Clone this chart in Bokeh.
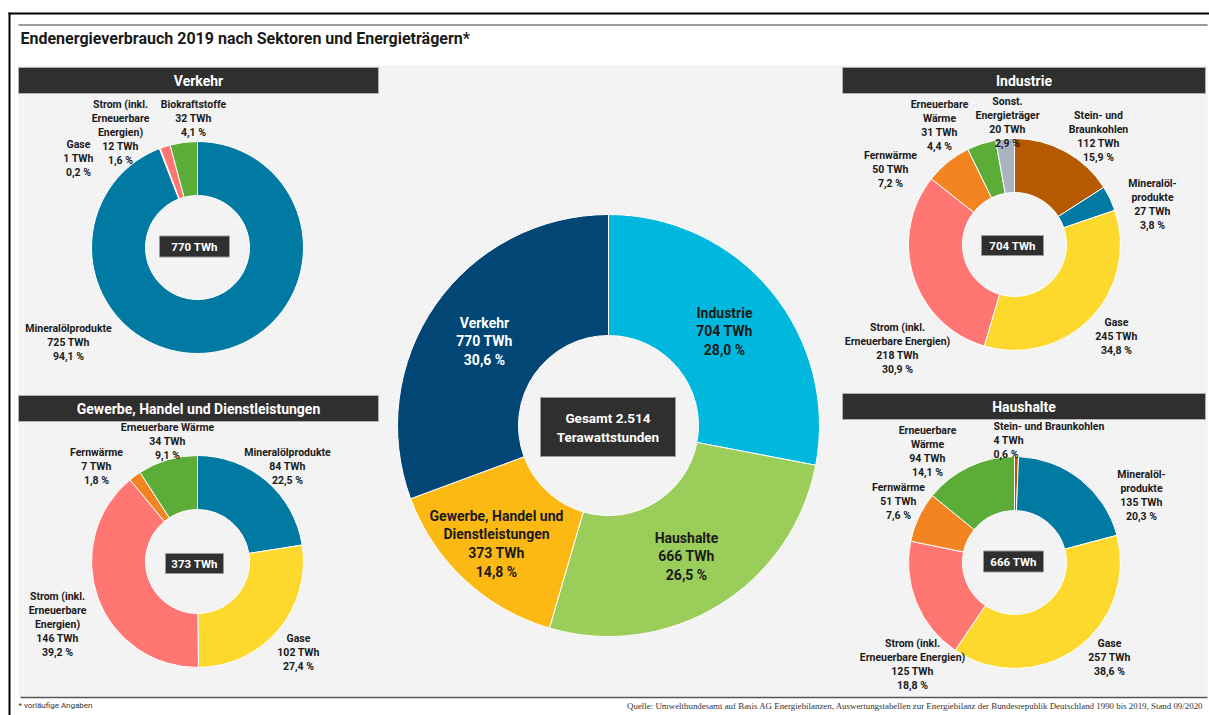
import math
from bokeh.plotting import figure
from bokeh.models import Range1d
from bokeh.core.properties import value
from bokeh.embed import file_html
from bokeh.resources import INLINE

# ---------------- data ----------------
sector_names = ["Industrie", "Haushalte", "Gewerbe, Handel und Dienstleistungen", "Verkehr"]
sector_twh = [704, 666, 373, 770]
sector_pct = ["28,0 %", "26,5 %", "14,8 %", "30,6 %"]
total_label = "Gesamt 2.514\nTerawattstunden"

verkehr_carriers = ["Mineralölprodukte", "Gase", "Strom (inkl. Erneuerbare Energien)", "Biokraftstoffe"]
verkehr_twh = [725, 1, 12, 32]
verkehr_pct = ["94,1 %", "0,2 %", "1,6 %", "4,1 %"]
verkehr_total = "770 TWh"

industrie_carriers = ["Stein- und Braunkohlen", "Mineralölprodukte", "Gase",
                      "Strom (inkl. Erneuerbare Energien)", "Fernwärme", "Erneuerbare Wärme",
                      "Sonst. Energieträger"]
industrie_twh = [112, 27, 245, 218, 50, 31, 20]
industrie_pct = ["15,9 %", "3,8 %", "34,8 %", "30,9 %", "7,2 %", "4,4 %", "2,9 %"]
industrie_total = "704 TWh"

gewerbe_carriers = ["Mineralölprodukte", "Gase", "Strom (inkl. Erneuerbare Energien)",
                    "Fernwärme", "Erneuerbare Wärme"]
gewerbe_twh = [84, 102, 146, 7, 34]
gewerbe_pct = ["22,5 %", "27,4 %", "39,2 %", "1,8 %", "9,1 %"]
gewerbe_total = "373 TWh"

haushalte_carriers = ["Stein- und Braunkohlen", "Mineralölprodukte", "Gase",
                      "Strom (inkl. Erneuerbare Energien)", "Fernwärme", "Erneuerbare Wärme"]
haushalte_twh = [4, 135, 257, 125, 51, 94]
haushalte_pct = ["0,6 %", "20,3 %", "38,6 %", "18,8 %", "7,6 %", "14,1 %"]
haushalte_total = "666 TWh"

title_text = "Endenergieverbrauch 2019 nach Sektoren und Energieträgern*"
footnote_text = "* vorläufige Angaben"
source_text = ("Quelle: Umweltbundesamt auf Basis AG Energiebilanzen, Auswertungstabellen zur "
               "Energiebilanz der Bundesrepublik Deutschland 1990 bis 2019, Stand 09/2020")

# ---------------- styles ----------------
carrier_colors = {
    "Mineralölprodukte": "#0079a3",
    "Gase": "#fdd92e",
    "Strom (inkl. Erneuerbare Energien)": "#ff7673",
    "Biokraftstoffe": "#5bad37",
    "Erneuerbare Wärme": "#5bad37",
    "Fernwärme": "#f28522",
    "Stein- und Braunkohlen": "#b55a00",
    "Sonst. Energieträger": "#a9b4bf",
}
sector_colors = ["#00b8dd", "#9bcd5a", "#fdb913", "#024676"]
sector_text_colors = ["#1a1a1a", "#1a1a1a", "#1a1a1a", "#ffffff"]

FONT = value("Roboto")
SERIF = value("Liberation Serif")
DARK = "#2f2f2f"
TXT = "#1a1a1a"

W_IMG, H_IMG = 1209, 715
def Y(py):
    return H_IMG - py

p = figure(width=W_IMG, height=H_IMG, output_backend="svg", toolbar_location=None,
           x_range=Range1d(0, W_IMG), y_range=Range1d(0, H_IMG),
           x_axis_location=None, y_axis_location=None, min_border=0,
           background_fill_color="white", border_fill_color="white")
p.grid.visible = False
p.outline_line_color = None

# background hatched area
p.quad(left=[18], right=[1207], top=[Y(65)], bottom=[Y(696)], fill_color="#efefef",
       line_color=None, hatch_pattern="/", hatch_color="#ffffff", hatch_alpha=0.7,
       hatch_scale=4, hatch_weight=0.8)

# frame lines
p.quad(left=[8], right=[10], top=[Y(12)], bottom=[Y(715)], fill_color="black", line_color=None)
p.quad(left=[8], right=[1209], top=[Y(12)], bottom=[Y(14)], fill_color="black", line_color=None)
p.line([18, 1207], [Y(24.5), Y(24.5)], line_color="#7a7a7a", line_width=1.5)
p.line([20, 1207], [Y(697), Y(697)], line_color="#555555", line_width=1.5)

p.text([20], [Y(38)], text=[title_text], text_font=FONT, text_font_style="bold",
       text_font_size="16px", text_color=TXT, text_align="left", text_baseline="middle")
p.text([18], [Y(705)], text=[footnote_text], text_font=FONT, text_font_size="8px",
       text_color="#333333", text_align="left", text_baseline="middle")
p.text([1203], [Y(705)], text=[source_text], text_font=SERIF, text_font_size="8.9px",
       text_color="#333333", text_align="right", text_baseline="middle")


def donut(cx, cy, r_in, r_out, vals, colors):
    total = float(sum(vals))
    c0 = 0.0
    starts, ends = [], []
    for v in vals:
        c1 = c0 + v
        starts.append(math.pi / 2 - 2 * math.pi * c1 / total)
        ends.append(math.pi / 2 - 2 * math.pi * c0 / total)
        c0 = c1
    n = len(vals)
    p.annular_wedge(x=[cx] * n, y=[Y(cy)] * n, inner_radius=r_in, outer_radius=r_out,
                    start_angle=starts, end_angle=ends, direction="anticlock",
                    fill_color=colors, line_color="white", line_width=1)


def multiline(x, y_first, lines, step, size, color, align, style="bold"):
    xs = [x] * len(lines)
    ys = [Y(y_first + i * step) for i in range(len(lines))]
    p.text(xs, ys, text=lines, text_font=FONT, text_font_style=style,
           text_font_size=f"{size}px", text_color=color, text_align=align,
           text_baseline="middle")


def labels(layout, names, vals, pcts, size=10.5, step=14.0, colors=None):
    for i, (lx, ly, al) in enumerate(layout):
        lines = names[i].split("\n") + [f"{vals[i]} TWh", pcts[i]]
        multiline(lx, ly, lines, step, size, colors[i] if colors else TXT, al)


def box(cx, cy, w, h, txt, size, step=19.0):
    p.rect([cx], [Y(cy)], width=w, height=h, fill_color=DARK, line_color="#9a9a9a", line_width=1)
    lines = txt.split("\n")
    y0 = cy - step * (len(lines) - 1) / 2
    multiline(cx, y0, lines, step, size, "white", "center")


def header(x0, x1, y0, y1, txt):
    p.quad(left=[x0], right=[x1], top=[Y(y0)], bottom=[Y(y1)], fill_color=DARK,
           line_color="#b0b0b0", line_width=1)
    p.text([(x0 + x1) / 2], [Y((y0 + y1) / 2)], text=[txt], text_font=FONT,
           text_font_style="bold", text_font_size="14px", text_color="white",
           text_align="center", text_baseline="middle")


R_IN, R_OUT = 52, 106

# ---- Verkehr ----
donut(197, 247, R_IN, R_OUT, verkehr_twh, [carrier_colors[c] for c in verkehr_carriers])
labels([(68, 328, "center"), (78, 144, "center"), (120, 104, "center"), (193, 104, "center")],
       ["Mineralölprodukte", "Gase", "Strom (inkl.\nErneuerbare\nEnergien)", "Biokraftstoffe"],
       verkehr_twh, verkehr_pct)
box(194, 246, 70, 21, verkehr_total, 11.5)
header(18, 378, 67, 93, "Verkehr")

# ---- Industrie ----
donut(1014, 244, R_IN, R_OUT, industrie_twh, [carrier_colors[c] for c in industrie_carriers])
labels([(1098, 115, "center"), (1152, 183, "center"), (1116, 322, "center"),
        (897, 327, "center"), (890, 155, "center"), (939, 104, "center"), (1007, 101, "center")],
       ["Stein- und\nBraunkohlen", "Mineralöl-\nprodukte", "Gase",
        "Strom (inkl.\nErneuerbare Energien)", "Fernwärme", "Erneuerbare\nWärme",
        "Sonst.\nEnergieträger"],
       industrie_twh, industrie_pct)
box(1012, 245, 62, 20, industrie_total, 11.5)
header(842, 1205, 67, 93, "Industrie")

# ---- Gewerbe ----
donut(197, 561, R_IN, R_OUT, gewerbe_twh, [carrier_colors[c] for c in gewerbe_carriers])
labels([(287, 452, "center"), (298, 638, "center"), (57, 596, "center"),
        (96, 452, "center"), (167, 427, "center")],
       ["Mineralölprodukte", "Gase", "Strom (inkl.\nErneuerbare\nEnergien)", "Fernwärme",
        "Erneuerbare Wärme"],
       gewerbe_twh, gewerbe_pct)
box(194, 563, 58, 20, gewerbe_total, 11.5)
header(18, 378, 395, 421, "Gewerbe, Handel und Dienstleistungen")

# ---- Haushalte ----
donut(1014, 562, R_IN, R_OUT, haushalte_twh, [carrier_colors[c] for c in haushalte_carriers])
labels([(993, 426, "left"), (1141, 474, "center"), (1109, 643, "center"),
        (912, 643, "center"), (898, 487, "center"), (927, 430, "center")],
       ["Stein- und Braunkohlen", "Mineralöl-\nprodukte", "Gase",
        "Strom (inkl.\nErneuerbare Energien)", "Fernwärme", "Erneuerbare\nWärme"],
       haushalte_twh, haushalte_pct)
box(1013, 561, 60, 21, haushalte_total, 11.5)
header(842, 1205, 393, 419, "Haushalte")

# ---- Gesamt ----
donut(608, 425, 90, 211, sector_twh, sector_colors)
labels([(724, 312, "center"), (686, 537, "center"), (496, 515, "center"), (484, 322, "center")],
       ["Industrie", "Haushalte", "Gewerbe, Handel und\nDienstleistungen", "Verkehr"],
       sector_twh, sector_pct, size=14, step=18.7, colors=sector_text_colors)
box(607.5, 426.5, 135, 59, total_label, 13.5)

open("out.html", "w").write(file_html(p, INLINE))
